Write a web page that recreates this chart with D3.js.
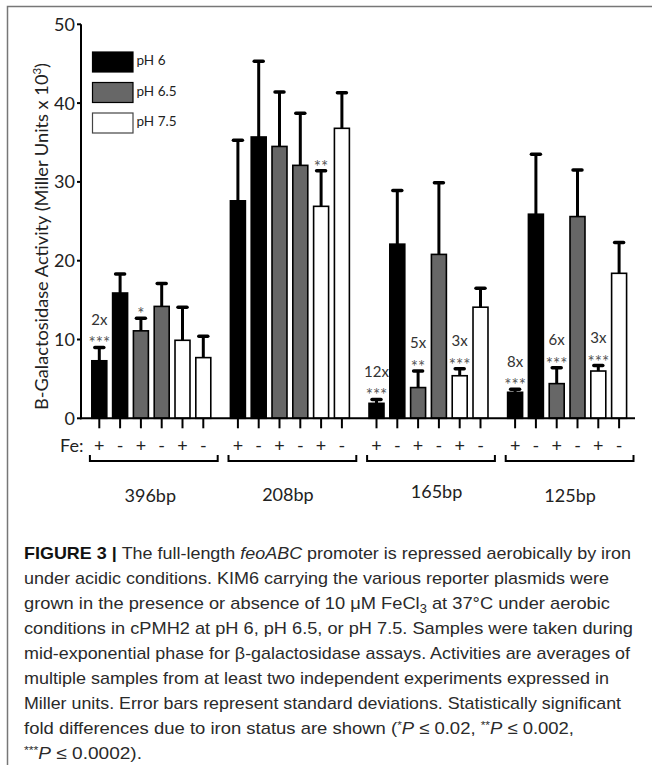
<!DOCTYPE html>
<html>
<head>
<meta charset="utf-8">
<script src="https://cdn.jsdelivr.net/npm/d3@7"></script>
<style>
  html, body { margin: 0; padding: 0; background: #fff; }
  svg { display: block; }
</style>
</head>
<body>
<div id="chart"></div>
<script>
// ---------------- DATA ----------------
const groups = ["396bp", "208bp", "165bp", "125bp"];
const phLevels = ["pH 6", "pH 6.5", "pH 7.5"];
const feStatus = ["+", "-"];
// bar order within each group: pH6 +, pH6 -, pH6.5 +, pH6.5 -, pH7.5 +, pH7.5 -
const mean396 = [7.3, 15.9, 11.1, 14.2, 9.9, 7.7];
const sd396   = [1.7, 2.4, 1.6, 2.9, 4.2, 2.7];
const mean208 = [27.6, 35.7, 34.5, 32.1, 26.9, 36.8];
const sd208   = [7.7, 9.6, 6.9, 6.6, 4.5, 4.5];
const mean165 = [1.9, 22.1, 3.9, 20.8, 5.4, 14.1];
const sd165   = [0.5, 6.8, 2.1, 9.1, 0.9, 2.4];
const mean125 = [3.3, 25.9, 4.4, 25.6, 6.0, 18.4];
const sd125   = [0.4, 7.6, 2.0, 5.9, 0.7, 3.9];
// annotations per group for the "+" bar of each pH (pH 6, pH 6.5, pH 7.5)
const fold396 = ["2x", "", ""];
const star396 = ["***", "*", ""];
const fold208 = ["", "", ""];
const star208 = ["", "", "**"];
const fold165 = ["12x", "5x", "3x"];
const star165 = ["***", "**", "***"];
const fold125 = ["8x", "6x", "3x"];
const star125 = ["***", "***", "***"];
const yTicks = [0, 10, 20, 30, 40, 50];
const yTitle = "B-Galactosidase Activity (Miller Units x 10";

const means = [mean396, mean208, mean165, mean125];
const sds = [sd396, sd208, sd165, sd125];
const folds = [fold396, fold208, fold165, fold125];
const stars = [star396, star208, star165, star125];

// ---------------- LAYOUT ----------------
const W = 652, H = 765;
const chartFont = "Lato, 'Open Sans', sans-serif";
const capFont = "'Liberation Sans', Arial, sans-serif";
const phFill = { "pH 6": "#000000", "pH 6.5": "#676767", "pH 7.5": "#ffffff" };

const svg = d3.select("#chart").append("svg")
  .attr("width", W).attr("height", H)
  .attr("viewBox", `0 0 ${W} ${H}`);

// frame
svg.append("path")
  .attr("d", `M7.5,${H} L7.5,6.5 L${W},6.5`)
  .attr("fill", "none").attr("stroke", "#777").attr("stroke-width", 1.5);

const y = d3.scaleLinear().domain([0, 50]).range([418.3, 24.3]);
const x0 = d3.scaleBand().domain(groups).range([88.9, 629.5]).paddingInner(0.0996).paddingOuter(0);
const x1 = d3.scaleBand().domain(d3.range(6)).range([0, x0.bandwidth()]).paddingInner(0.28).paddingOuter(0.14);

const bars = [];
groups.forEach((g, gi) => {
  d3.range(6).forEach(i => {
    const ph = phLevels[Math.floor(i / 2)];
    bars.push({
      g, gi, i, ph, fe: feStatus[i % 2],
      mean: means[gi][i], sd: sds[gi][i],
      fold: (i % 2 === 0) ? folds[gi][i / 2] : "",
      star: (i % 2 === 0) ? stars[gi][i / 2] : ""
    });
  });
});
const cx = d => x0(d.g) + x1(d.i) + x1.bandwidth() / 2;

// error bars (drawn first, bars overlay their base)
const eb = svg.append("g");
eb.selectAll("line.v").data(bars).join("line")
  .attr("x1", cx).attr("x2", cx)
  .attr("y1", d => y(d.mean)).attr("y2", d => y(d.mean + d.sd))
  .attr("stroke", "#000").attr("stroke-width", 3);
eb.selectAll("line.c").data(bars).join("line")
  .attr("x1", d => cx(d) - 4.5).attr("x2", d => cx(d) + 4.5)
  .attr("y1", d => y(d.mean + d.sd)).attr("y2", d => y(d.mean + d.sd))
  .attr("stroke", "#000").attr("stroke-width", 3.5).attr("stroke-linecap", "round");

// bars
svg.append("g").selectAll("rect").data(bars).join("rect")
  .attr("x", d => x0(d.g) + x1(d.i))
  .attr("y", d => y(d.mean))
  .attr("width", x1.bandwidth())
  .attr("height", d => y(0) - y(d.mean))
  .attr("fill", d => phFill[d.ph])
  .attr("stroke", "#000").attr("stroke-width", 1.6);

// annotations
const ann = svg.append("g").attr("font-family", chartFont).attr("text-anchor", "middle");
ann.selectAll("text.star").data(bars.filter(d => d.star)).join("text")
  .attr("x", cx)
  .attr("y", d => y(d.mean + d.sd) + 2)
  .attr("font-size", 17).attr("fill", "#555")
  .text(d => d.star);
ann.selectAll("text.fold").data(bars.filter(d => d.fold)).join("text")
  .attr("x", cx)
  .attr("y", d => y(d.mean + d.sd) - 28 + 5.4)
  .attr("font-size", 15).attr("fill", "#333")
  .text(d => d.fold);

// axes
const axisG = svg.append("g").attr("stroke", "#000");
axisG.append("line").attr("x1", 81).attr("x2", 81).attr("y1", y(50)).attr("y2", y(0) + 1).attr("stroke-width", 2);
axisG.append("line").attr("x1", 80).attr("x2", 635).attr("y1", y(0)).attr("y2", y(0)).attr("stroke-width", 2);
axisG.selectAll("line.yt").data(yTicks).join("line")
  .attr("x1", 77).attr("x2", 81).attr("y1", d => y(d)).attr("y2", d => y(d)).attr("stroke-width", 2);
axisG.selectAll("line.xt").data(bars).join("line")
  .attr("x1", cx).attr("x2", cx).attr("y1", y(0)).attr("y2", y(0) + 10).attr("stroke-width", 2);

svg.append("g").attr("font-family", chartFont).attr("font-size", 18).attr("fill", "#222")
  .attr("text-anchor", "end")
  .selectAll("text").data(yTicks).join("text")
  .attr("x", 75).attr("y", d => y(d) + 6.5).text(d => d);

// y title
const yt = svg.append("text")
  .attr("transform", "translate(47.5,236.5) rotate(-90)")
  .attr("text-anchor", "middle")
  .attr("font-family", chartFont).attr("font-size", 17.5).attr("fill", "#222")
  .attr("textLength", 347).attr("lengthAdjust", "spacingAndGlyphs");
yt.append("tspan").text(yTitle);
yt.append("tspan").attr("font-size", 11).attr("dy", -7).text("3");
yt.append("tspan").attr("dy", 7).text(")");

// Fe row
const feG = svg.append("g").attr("font-family", chartFont).attr("font-size", 18).attr("fill", "#222");
feG.append("text").attr("x", 60).attr("y", 452).text("Fe:");
feG.selectAll("text.s").data(bars).join("text")
  .attr("x", cx).attr("y", 452).attr("text-anchor", "middle")
  .text(d => d.fe);

// brackets
svg.append("g").selectAll("path").data(groups).join("path")
  .attr("d", g => {
    const s = x0(g) + 1, e = x0(g) + x0.bandwidth() + 4;
    return `M${s},455 L${s},461 L${e},461 L${e},455`;
  })
  .attr("fill", "none").attr("stroke", "#000").attr("stroke-width", 2);

// group labels
const gdx = [-1, -2, 8, 3], gdy = [502, 501, 498, 502];
svg.append("g").attr("font-family", chartFont).attr("font-size", 18).attr("fill", "#222")
  .attr("text-anchor", "middle")
  .selectAll("text").data(groups).join("text")
  .attr("x", (g, i) => x0(g) + x0.bandwidth() / 2 + gdx[i])
  .attr("y", (g, i) => gdy[i])
  .text(g => g);

// legend
const leg = svg.append("g").attr("font-family", chartFont);
phLevels.forEach((p, i) => {
  const ly = [52, 82.5, 113][i];
  leg.append("rect").attr("x", 92.5).attr("y", ly).attr("width", 40.5).attr("height", 20)
    .attr("fill", phFill[p]).attr("stroke", i === 2 ? "#444" : "#000").attr("stroke-width", 1.2);
  leg.append("text").attr("x", 136.5).attr("y", ly + 13).attr("font-size", 13.5).attr("fill", "#222").text(p);
});

// caption
const cap = svg.append("g").attr("font-family", capFont).attr("font-size", 17).attr("fill", "#2a2a2a");
const capX = 24;
const capLines = [
  { end: 631, parts: [{ t: "FIGURE 3 | ", w: "bold" }, { t: "The full-length " }, { t: "feoABC", s: "italic" }, { t: " promoter is repressed aerobically by iron" }] },
  { end: 609, parts: [{ t: "under acidic conditions. KIM6 carrying the various reporter plasmids were" }] },
  { end: 610, parts: [{ t: "grown in the presence or absence of 10 \u03bcM FeCl" }, { t: "3", sub: true }, { t: " at 37\u00b0C under aerobic", back: true }] },
  { end: 633, parts: [{ t: "conditions in cPMH2 at pH 6, pH 6.5, or pH 7.5. Samples were taken during" }] },
  { end: 630, parts: [{ t: "mid-exponential phase for \u03b2-galactosidase assays. Activities are averages of" }] },
  { end: 609, parts: [{ t: "multiple samples from at least two independent experiments expressed in" }] },
  { end: 621, parts: [{ t: "Miller units. Error bars represent standard deviations. Statistically significant" }] },
  { end: 574, parts: [{ t: "fold differences due to iron status are shown (" }, { t: "*", sup: true }, { t: "P", s: "italic", back: true }, { t: " \u2264 0.02, " }, { t: "**", sup: true }, { t: "P", s: "italic", back: true }, { t: " \u2264 0.002," }] },
  { end: 142, parts: [{ t: "***", sup: true }, { t: "P", s: "italic", back: true }, { t: " \u2264 0.0002)." }] }
];
capLines.forEach((ln, k) => {
  const t = cap.append("text").attr("x", capX).attr("y", 559 + 25 * k)
    .attr("textLength", ln.end - capX).attr("lengthAdjust", "spacingAndGlyphs");
  ln.parts.forEach(p => {
    const ts = t.append("tspan").text(p.t);
    if (p.w) ts.attr("font-weight", p.w).attr("fill", "#111");
    if (p.s) ts.attr("font-style", p.s);
    if (p.sub) ts.attr("dy", 4).attr("font-size", 12);
    if (p.sup) ts.attr("dy", -5).attr("font-size", 11);
    if (p.back) ts.attr("dy", p.t === "P" ? 5 : -4);
  });
});
</script>
</body>
</html>
